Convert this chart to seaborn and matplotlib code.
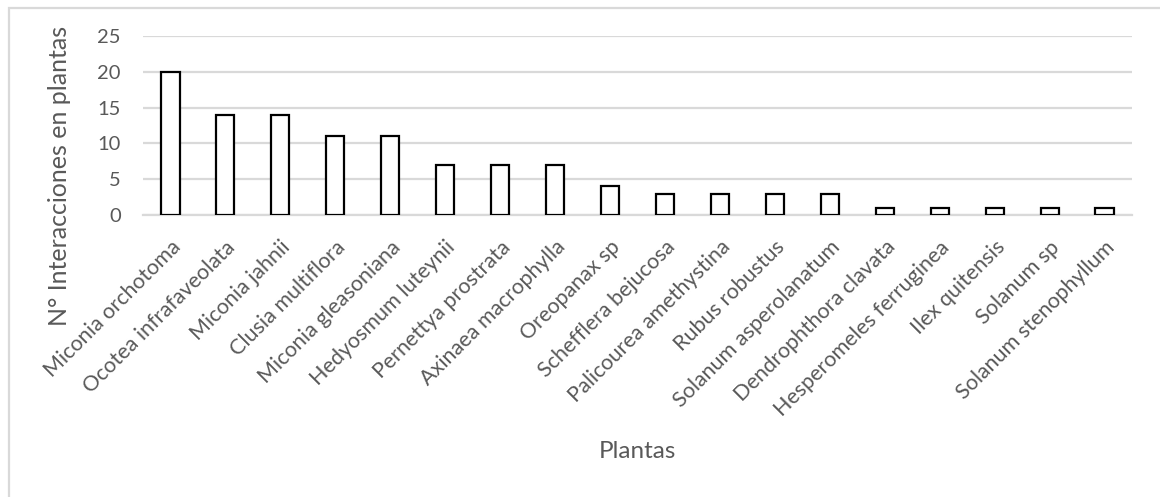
import matplotlib
matplotlib.use("Agg")
import matplotlib.pyplot as plt
import matplotlib.patches as mpatches
import matplotlib.transforms as mtransforms
import pandas as pd
import seaborn as sns

plantas = [
    "Miconia orchotoma", "Ocotea infrafaveolata", "Miconia jahnii",
    "Clusia multiflora", "Miconia gleasoniana", "Hedyosmum luteynii",
    "Pernettya prostrata", "Axinaea macrophylla", "Oreopanax sp",
    "Schefflera bejucosa", "Palicourea amethystina", "Rubus robustus",
    "Solanum asperolanatum", "Dendrophthora clavata",
    "Hesperomeles ferruginea", "Ilex quitensis", "Solanum sp",
    "Solanum stenophyllum",
]
interacciones = [20, 14, 14, 11, 11, 7, 7, 7, 4, 3, 3, 3, 3, 1, 1, 1, 1, 1]
y_ticks = [0, 5, 10, 15, 20, 25]

df = pd.DataFrame({"Plantas": plantas, "Interacciones": interacciones})

sns.set_theme(style="white")
plt.rcParams["font.family"] = ["Lato", "DejaVu Sans"]

text_color = "#595959"
grid_color = "#d9d9d9"

fig = plt.figure(figsize=(11.6, 4.97), dpi=100)
ax = fig.add_axes([143 / 1160, 282 / 497, 989 / 1160, 179 / 497])

sns.barplot(
    data=df, x="Plantas", y="Interacciones", order=plantas,
    color="white", edgecolor="black", linewidth=1.6, width=0.33,
    saturation=1, ax=ax, zorder=3,
)

ax.set_ylim(0, 25)
ax.set_yticks(y_ticks)
ax.set_xlim(-0.5, len(plantas) - 0.5)
ax.yaxis.grid(True, color=grid_color, linewidth=1.6)
ax.set_axisbelow(True)
for side in ["top", "right", "left"]:
    ax.spines[side].set_visible(False)
ax.spines["bottom"].set_color(grid_color)
ax.spines["bottom"].set_linewidth(1.6)
ax.tick_params(axis="both", length=0, colors=text_color, labelsize=14.5)
ax.tick_params(axis="y", pad=16)

# rotated species names, right end placed just below each bar
ax.set_xticks(range(len(plantas)))
ax.set_xticklabels([])
label_trans = mtransforms.blended_transform_factory(ax.transData, ax.transAxes)
label_trans = label_trans + mtransforms.ScaledTranslation(
    0 / 100, -22 / 100, fig.dpi_scale_trans)
for i, name in enumerate(plantas):
    ax.text(i, 0, name, transform=label_trans, rotation=45,
            rotation_mode="anchor", ha="right", va="top",
            fontsize=15.5, color=text_color)

ax.set_xlabel("")
ax.set_ylabel("")
fig.text(637 / 1160, 1 - 452 / 497, "Plantas", ha="center", va="center",
         fontsize=17.5, color=text_color)
fig.text(60 / 1160, 1 - 176 / 497, "N° Interacciones en plantas",
         ha="center", va="center", rotation=90, fontsize=18,
         color=text_color)

# chart frame
frame = mpatches.Rectangle((9 / 1160, -0.1), 1.2, (497 - 7.5) / 497 + 0.1,
                           transform=fig.transFigure, fill=False,
                           edgecolor=grid_color, linewidth=1.6,
                           clip_on=False)
fig.patches.append(frame)

fig.savefig("out.png", dpi=100, facecolor="white")
